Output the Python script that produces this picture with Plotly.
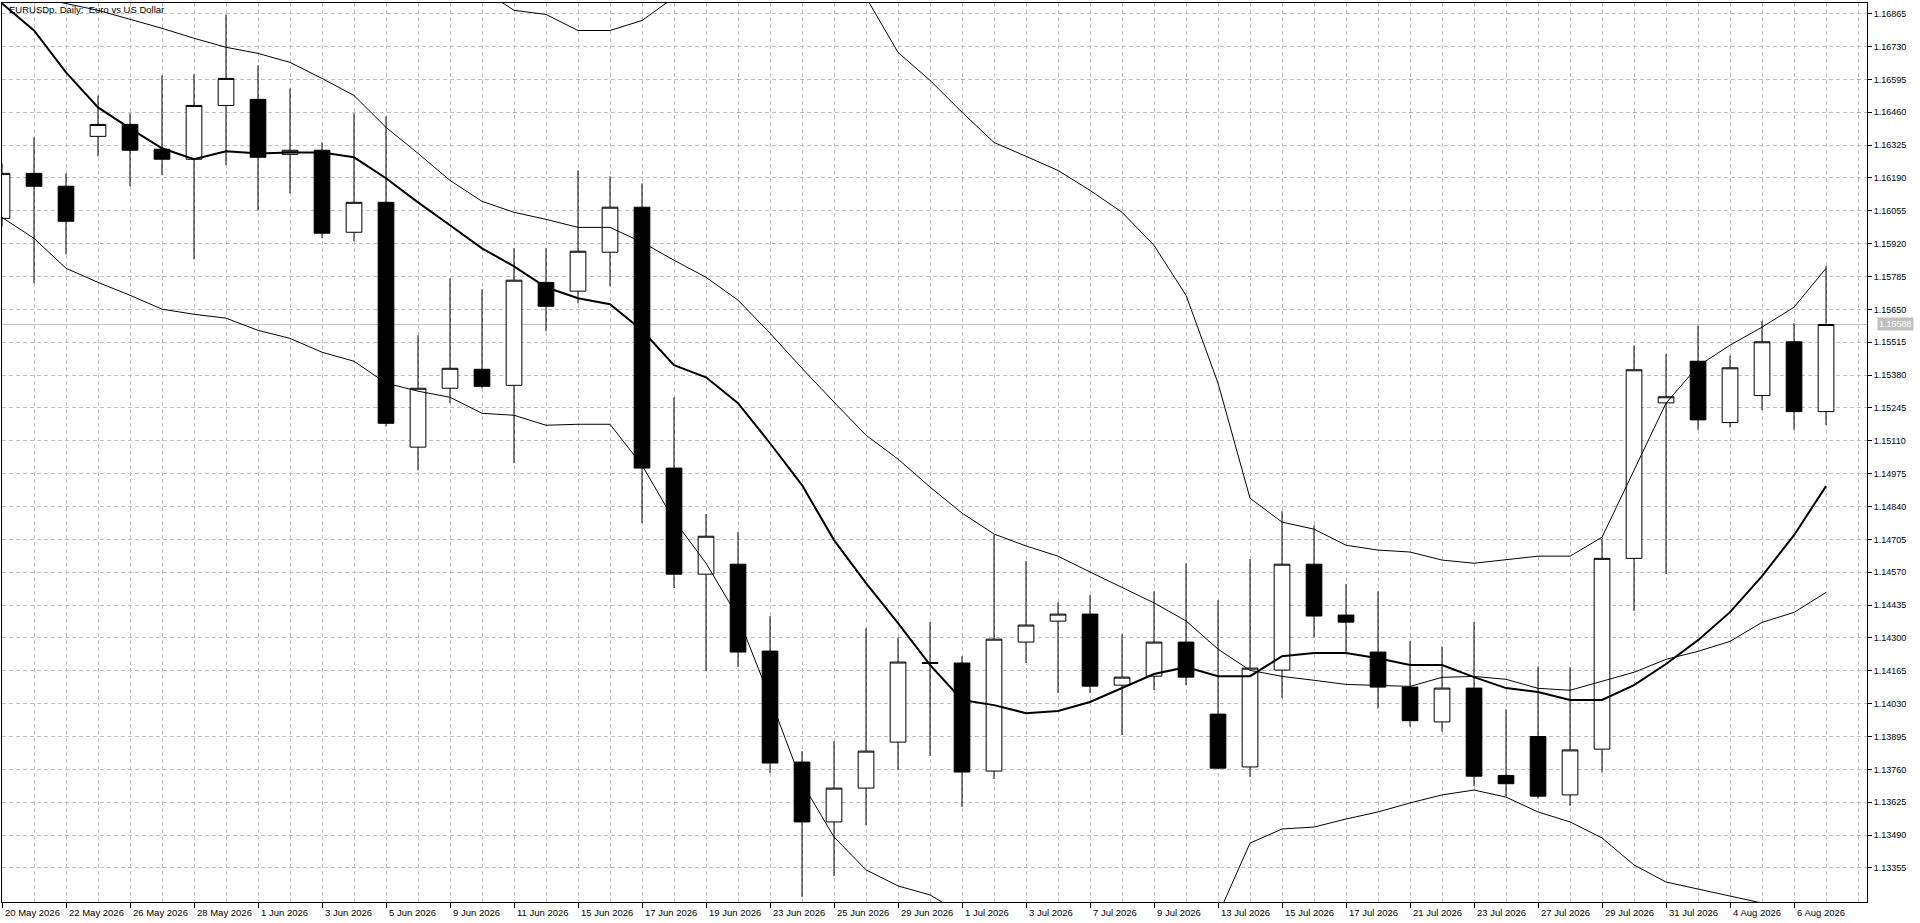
import plotly.graph_objects as go

dates = ["20 May 2026", "21 May 2026", "22 May 2026", "25 May 2026", "26 May 2026", "27 May 2026", "28 May 2026", "29 May 2026",
         "1 Jun 2026", "2 Jun 2026", "3 Jun 2026", "4 Jun 2026", "5 Jun 2026",
         "8 Jun 2026", "9 Jun 2026", "10 Jun 2026", "11 Jun 2026", "12 Jun 2026",
         "15 Jun 2026", "16 Jun 2026", "17 Jun 2026", "18 Jun 2026", "19 Jun 2026",
         "22 Jun 2026", "23 Jun 2026", "24 Jun 2026", "25 Jun 2026", "26 Jun 2026",
         "29 Jun 2026", "30 Jun 2026", "1 Jul 2026", "2 Jul 2026", "3 Jul 2026",
         "6 Jul 2026", "7 Jul 2026", "8 Jul 2026", "9 Jul 2026", "10 Jul 2026",
         "13 Jul 2026", "14 Jul 2026", "15 Jul 2026", "16 Jul 2026", "17 Jul 2026",
         "20 Jul 2026", "21 Jul 2026", "22 Jul 2026", "23 Jul 2026", "24 Jul 2026",
         "27 Jul 2026", "28 Jul 2026", "29 Jul 2026", "30 Jul 2026", "31 Jul 2026",
         "3 Aug 2026", "4 Aug 2026", "5 Aug 2026", "6 Aug 2026", "7 Aug 2026"]

opens = [1.16024, 1.16209, 1.16156, 1.16361, 1.16410, 1.16308, 1.16267, 1.16488, 1.16513, 1.16287,
         1.16304, 1.15967, 1.16090, 1.15084, 1.15326, 1.15404, 1.15338, 1.15761, 1.15725, 1.15885,
         1.16070, 1.14998, 1.14562, 1.14603, 1.14246, 1.13790, 1.13544, 1.13683, 1.13872, 1.14199,
         1.14197, 1.13753, 1.14283, 1.14369, 1.14398, 1.14106, 1.14143, 1.14283, 1.13987, 1.13770,
         1.14168, 1.14603, 1.14394, 1.14242, 1.14098, 1.13955, 1.14094, 1.13735, 1.13895, 1.13655,
         1.13843, 1.14627, 1.15266, 1.15437, 1.15185, 1.15296, 1.15517, 1.15230]
highs = [1.16250, 1.16357, 1.16209, 1.16529, 1.16456, 1.16612, 1.16616, 1.16862, 1.16653, 1.16558,
         1.16336, 1.16456, 1.16443, 1.15544, 1.15778, 1.15733, 1.15901, 1.15901, 1.16221, 1.16197,
         1.16168, 1.15289, 1.14809, 1.14735, 1.14390, 1.13835, 1.13876, 1.14340, 1.14303, 1.14365,
         1.14225, 1.14722, 1.14616, 1.14447, 1.14476, 1.14316, 1.14492, 1.14607, 1.14455, 1.14624,
         1.14821, 1.14763, 1.14521, 1.14492, 1.14287, 1.14264, 1.14365, 1.14007, 1.14183, 1.14180,
         1.14713, 1.15502, 1.15467, 1.15583, 1.15460, 1.15603, 1.15593, 1.15829]
lows = [1.15990, 1.15757, 1.15876, 1.16279, 1.16156, 1.16201, 1.15856, 1.16242, 1.16057, 1.16127,
        1.15942, 1.15930, 1.15170, 1.14989, 1.15265, 1.15326, 1.15018, 1.15560, 1.15675, 1.15745,
        1.14772, 1.14505, 1.14164, 1.14180, 1.13745, 1.13236, 1.13322, 1.13531, 1.13757, 1.13815,
        1.13605, 1.13720, 1.14197, 1.14074, 1.14074, 1.13901, 1.14086, 1.14106, 1.13762, 1.13729,
        1.14053, 1.14303, 1.14242, 1.14010, 1.13935, 1.13915, 1.13690, 1.13650, 1.13640, 1.13610,
        1.13747, 1.14411, 1.14562, 1.15155, 1.15165, 1.15236, 1.15155, 1.15175]
closes = [1.16209, 1.16156, 1.16012, 1.16410, 1.16304, 1.16267, 1.16488, 1.16599, 1.16275, 1.16304,
          1.15963, 1.16090, 1.15182, 1.15326, 1.15408, 1.15334, 1.15770, 1.15663, 1.15889, 1.16070,
          1.14998, 1.14562, 1.14718, 1.14242, 1.13786, 1.13544, 1.13683, 1.13835, 1.14201, 1.14195,
          1.13749, 1.14295, 1.14353, 1.14398, 1.14102, 1.14139, 1.14283, 1.14139, 1.13765, 1.14176,
          1.14603, 1.14390, 1.14365, 1.14098, 1.13960, 1.14094, 1.13732, 1.13701, 1.13650, 1.13840,
          1.14627, 1.15402, 1.15291, 1.15196, 1.15410, 1.15517, 1.15230, 1.15588]

ma_fast = [1.16907, 1.16796, 1.16624, 1.16480, 1.16394, 1.16312, 1.16267, 1.16300, 1.16291, 1.16295,
           1.16295, 1.16275, 1.16189, 1.16090, 1.15996, 1.15901, 1.15827, 1.15741, 1.15696, 1.15671,
           1.15564, 1.15421, 1.15371, 1.15265, 1.15100, 1.14928, 1.14702, 1.14525, 1.14361, 1.14189,
           1.14045, 1.14024, 1.13991, 1.14000, 1.14037, 1.14094, 1.14152, 1.14180, 1.14143, 1.14143,
           1.14225, 1.14238, 1.14238, 1.14217, 1.14189, 1.14189, 1.14139, 1.14094, 1.14078, 1.14045,
           1.14045, 1.14106, 1.14193, 1.14291, 1.14406, 1.14554, 1.14722, 1.14924]
bb_mid = [1.16969, 1.16936, 1.16907, 1.16879, 1.16842, 1.16805, 1.16764, 1.16727, 1.16702, 1.16665,
          1.16599, 1.16529, 1.16398, 1.16291, 1.16180, 1.16094, 1.16049, 1.16020, 1.15987, 1.15987,
          1.15926, 1.15852, 1.15782, 1.15688, 1.15552, 1.15408, 1.15269, 1.15133, 1.15035, 1.14920,
          1.14813, 1.14727, 1.14678, 1.14636, 1.14571, 1.14509, 1.14444, 1.14370, 1.14254, 1.14167,
          1.14142, 1.14126, 1.14109, 1.14105, 1.14101, 1.14138, 1.14142, 1.14130, 1.14093, 1.14085,
          1.14122, 1.14159, 1.14212, 1.14245, 1.14286, 1.14364, 1.14405, 1.14487]
bb_upper = [1.17909, 1.17930, 1.17996, 1.17996, 1.17975, 1.17959, 1.17897, 1.17840, 1.17840, 1.17799,
            1.17725, 1.17622, 1.17450, 1.17269, 1.17072, 1.16965, 1.16879, 1.16862, 1.16796, 1.16796,
            1.16837, 1.16932, 1.16956, 1.16990, 1.17051, 1.17113, 1.17055, 1.16932, 1.16706, 1.16591,
            1.16460, 1.16336, 1.16279, 1.16221, 1.16139, 1.16049, 1.15913, 1.15708, 1.15347, 1.14874,
            1.14776, 1.14747, 1.14681, 1.14661, 1.14653, 1.14620, 1.14607, 1.14620, 1.14636, 1.14636,
            1.14714, 1.14989, 1.15265, 1.15417, 1.15503, 1.15577, 1.15659, 1.15819]
bb_lower = [1.16028, 1.15942, 1.15819, 1.15761, 1.15708, 1.15651, 1.15630, 1.15614, 1.15564, 1.15531,
            1.15474, 1.15437, 1.15347, 1.15314, 1.15289, 1.15223, 1.15215, 1.15174, 1.15178, 1.15178,
            1.15010, 1.14784, 1.14607, 1.14386, 1.14053, 1.13704, 1.13482, 1.13347, 1.13281, 1.13244,
            1.13166, 1.13116, 1.13075, 1.13050, 1.13001, 1.12968, 1.12972, 1.13030, 1.13161, 1.13457,
            1.13515, 1.13523, 1.13556, 1.13585, 1.13622, 1.13655, 1.13675, 1.13646, 1.13585, 1.13544,
            1.13478, 1.13367, 1.13297, 1.13268, 1.13240, 1.13211, 1.13182, 1.13149]

price_ticks = ["1.16865", "1.16730", "1.16595", "1.16460", "1.16325", "1.16190", "1.16055", "1.15920",
               "1.15785", "1.15650", "1.15515", "1.15380", "1.15245", "1.15110", "1.14975", "1.14840",
               "1.14705", "1.14570", "1.14435", "1.14300", "1.14165", "1.14030", "1.13895", "1.13760",
               "1.13625", "1.13490", "1.13355"]

title_text = "EURUSDp, Daily:  Euro vs US Dollar"

FONT = "Liberation Sans"
GRID = "#C0C0C0"
DASH = "4px,3px"

x = list(range(len(dates)))

fig = go.Figure()
fig.add_trace(go.Candlestick(
    x=x, open=opens, high=highs, low=lows, close=closes,
    increasing=dict(line=dict(color="black", width=1), fillcolor="white"),
    decreasing=dict(line=dict(color="black", width=1), fillcolor="black"),
    whiskerwidth=0, showlegend=False, hoverinfo="skip"))

for vals, w in [(bb_upper, 1), (bb_mid, 1), (bb_lower, 1), (ma_fast, 2)]:
    fig.add_trace(go.Scatter(x=x, y=vals, mode="lines",
                             line=dict(color="black", width=w),
                             showlegend=False, hoverinfo="skip"))

last_price = closes[-1]
fig.add_shape(type="line", xref="paper", x0=0, x1=1, yref="y", y0=last_price, y1=last_price,
              line=dict(color=GRID, width=1), layer="between")

fig.add_annotation(x=1, xref="paper", y=last_price, yref="y", text=f"{last_price:.5f}",
                   showarrow=False, xanchor="left", yanchor="middle", xshift=10,
                   bgcolor=GRID, borderpad=1, font=dict(family=FONT, size=9, color="white"))

for k in x[::2]:
    fig.add_annotation(x=k, xref="x", y=0, yref="paper", text=dates[k], showarrow=False,
                       xanchor="left", yanchor="top", xshift=1, yshift=-3,
                       font=dict(family=FONT, size=9.5, color="black"))

fig.add_annotation(x=0, xref="paper", y=1, yref="paper", text=title_text, showarrow=False,
                   xanchor="left", yanchor="top", xshift=5, yshift=1,
                   font=dict(family=FONT, size=9.5, color="black"))

fig.update_layout(
    width=1920, height=923,
    margin=dict(l=2, r=53, t=3, b=21),
    paper_bgcolor="white", plot_bgcolor="white",
    showlegend=False, hovermode=False,
)

fig.update_xaxes(
    range=[0, 58.28], tickmode="array", tickvals=x[::2], ticktext=[""] * len(x[::2]),
    showticklabels=False, ticks="outside", ticklen=5, tickcolor="black", tickwidth=1,
    showgrid=True, gridcolor=GRID, griddash=DASH, gridwidth=1,
    minor=dict(tickmode="linear", tick0=0, dtick=1, showgrid=True, gridcolor=GRID,
               griddash=DASH, gridwidth=1, ticks=""),
    showline=True, linecolor="black", linewidth=1, mirror=True, zeroline=False,
    rangeslider=dict(visible=False), fixedrange=True)

fig.update_yaxes(
    side="right", range=[1.13215, 1.16909],
    tickmode="array", tickvals=[float(t) for t in price_ticks], ticktext=price_ticks,
    ticks="outside", ticklen=4, tickcolor="black", tickwidth=1,
    showgrid=True, gridcolor=GRID, griddash=DASH, gridwidth=1,
    showline=True, linecolor="black", linewidth=1, mirror=True, zeroline=False,
    tickfont=dict(family=FONT, size=9, color="black"), fixedrange=True)

fig.write_html("out.html", config={"displayModeBar": False, "staticPlot": True},
               post_script="document.body.style.margin='0px';")
